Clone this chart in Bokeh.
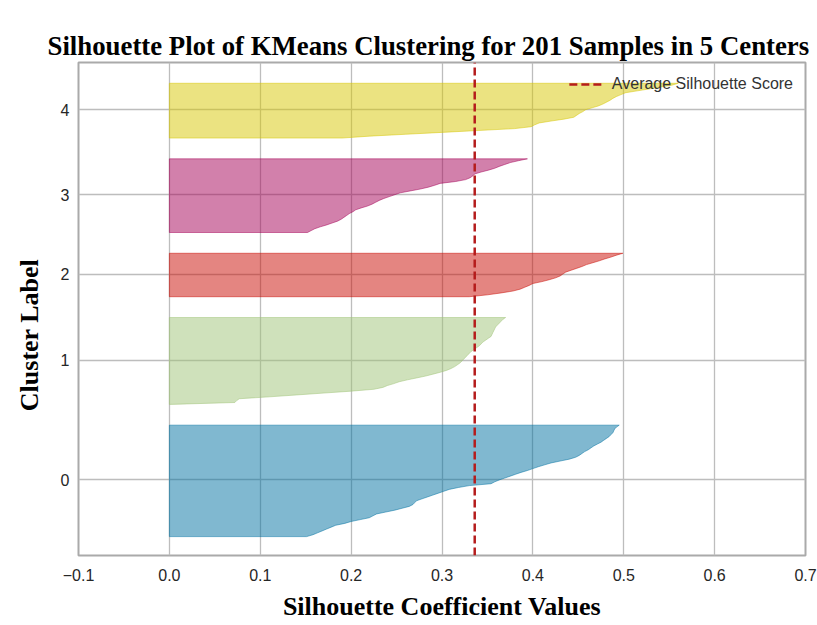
from bokeh.plotting import figure
from bokeh.models import Range1d, FixedTicker, Title, Legend, LegendItem
from bokeh.embed import file_html
from bokeh.resources import INLINE

# ---- data ----
cluster_labels = ["0", "1", "2", "3", "4"]
cluster_colors = ["#0272a2", "#9fc377", "#ca0b03", "#a50258", "#d7c703"]

sil_c0 = [0.151, 0.158, 0.163, 0.168, 0.173, 0.178, 0.183, 0.193, 0.200, 0.210,
          0.220, 0.224, 0.228, 0.238, 0.248, 0.256, 0.264, 0.268, 0.270, 0.272,
          0.278, 0.284, 0.290, 0.296, 0.302, 0.308, 0.318, 0.330, 0.354, 0.358,
          0.363, 0.369, 0.375, 0.381, 0.387, 0.394, 0.400, 0.406, 0.413, 0.420,
          0.430, 0.440, 0.447, 0.451, 0.454, 0.457, 0.461, 0.464, 0.467, 0.471,
          0.475, 0.478, 0.481, 0.484, 0.486, 0.488, 0.489, 0.490, 0.492, 0.495]
sil_c1 = [0.002, 0.072, 0.074, 0.077, 0.110, 0.140, 0.170, 0.200, 0.225, 0.235,
          0.240, 0.247, 0.253, 0.262, 0.272, 0.282, 0.290, 0.298, 0.305, 0.310,
          0.314, 0.317, 0.320, 0.322, 0.324, 0.326, 0.328, 0.330, 0.332, 0.335,
          0.338, 0.341, 0.343, 0.345, 0.348, 0.351, 0.354, 0.355, 0.356, 0.357,
          0.358, 0.359, 0.361, 0.363, 0.365, 0.367, 0.370]
sil_c2 = [0.330, 0.350, 0.365, 0.378, 0.386, 0.391, 0.396, 0.400, 0.410, 0.418,
          0.425, 0.430, 0.433, 0.436, 0.442, 0.448, 0.454, 0.459, 0.466, 0.473,
          0.479, 0.486, 0.492, 0.499]
sil_c3 = [0.152, 0.156, 0.160, 0.166, 0.173, 0.179, 0.185, 0.189, 0.192, 0.195,
          0.198, 0.202, 0.205, 0.211, 0.218, 0.223, 0.227, 0.231, 0.236, 0.242,
          0.248, 0.254, 0.265, 0.276, 0.285, 0.292, 0.298, 0.315, 0.326, 0.331,
          0.334, 0.336, 0.343, 0.351, 0.358, 0.363, 0.369, 0.375, 0.384, 0.394]
sil_c4 = [0.190, 0.220, 0.260, 0.300, 0.340, 0.380, 0.398, 0.402, 0.407, 0.420,
          0.434, 0.445, 0.448, 0.451, 0.455, 0.458, 0.465, 0.472, 0.477, 0.481,
          0.485, 0.488, 0.492, 0.497, 0.502, 0.515, 0.528, 0.540, 0.553, 0.560]
silhouette_values = [sil_c0, sil_c1, sil_c2, sil_c3, sil_c4]

avg_score = 0.336
gap = 10
x_ticks = [-0.1, 0.0, 0.1, 0.2, 0.3, 0.4, 0.5, 0.6, 0.7]
x_tick_labels = ["\u22120.1", "0.0", "0.1", "0.2", "0.3", "0.4", "0.5", "0.6", "0.7"]

n_samples = sum(len(v) for v in silhouette_values)
y_max = n_samples + (len(silhouette_values) + 1) * gap

SERIF = "Liberation Serif"
SANS = "Liberation Sans"

p = figure(width=817, height=623,
           x_range=Range1d(-0.1, 0.7), y_range=Range1d(0, y_max),
           output_backend="svg", toolbar_location=None,
           min_border_left=78, min_border_right=12,
           min_border_top=62, min_border_bottom=66)
p.title = None

# ---- silhouettes ----
y_lower = gap
tick_pos = []
for vals, col in zip(silhouette_values, cluster_colors):
    size = len(vals)
    ys = [y_lower + i for i in range(size)]
    xs = [0.0] + list(vals) + [0.0]
    yy = [ys[0]] + ys + [ys[-1]]
    p.patch(xs, yy, fill_color=col, fill_alpha=0.5,
            line_color=col, line_alpha=0.5, line_width=1)
    tick_pos.append(y_lower + 0.5 * size)
    y_lower = y_lower + size + gap

avg_r = p.line([avg_score, avg_score], [0, y_max], line_color="#b51c1c",
               line_dash="8 4", line_width=2.5)

legend = Legend(items=[LegendItem(label="Average Silhouette Score", renderers=[avg_r])],
                location="top_right")
legend.background_fill_alpha = 0
legend.border_line_color = None
legend.label_text_font = SANS
legend.label_text_font_size = "16px"
legend.label_text_color = "#333333"
legend.glyph_width = 36
legend.margin = 12
legend.padding = 6
legend.label_standoff = 7
p.add_layout(legend)

# ---- axes / grid ----
p.xaxis.ticker = FixedTicker(ticks=x_ticks)
p.xaxis.major_label_overrides = dict(zip(x_ticks, x_tick_labels))
p.yaxis.ticker = FixedTicker(ticks=tick_pos)
p.yaxis.major_label_overrides = dict(zip(tick_pos, cluster_labels))
p.xgrid.ticker = FixedTicker(ticks=x_ticks)
p.ygrid.ticker = FixedTicker(ticks=tick_pos)

for ax in (p.xaxis[0], p.yaxis[0]):
    ax.axis_line_color = None
    ax.major_tick_line_color = None
    ax.minor_tick_line_color = None
    ax.major_tick_out = 0
    ax.major_label_text_font = SANS
    ax.major_label_text_font_size = "16px"
    ax.major_label_text_color = "#262626"
    ax.axis_label_text_font = SERIF
    ax.axis_label_text_font_style = "bold"
    ax.axis_label_text_font_size = "26px"
    ax.axis_label_text_color = "#000000"

p.xaxis.axis_label = "Silhouette Coefficient Values"
p.yaxis.axis_label = "Cluster Label" + "\u00a0" * 8
p.xaxis.major_label_standoff = 13
p.xaxis.axis_label_standoff = 8
p.yaxis.major_label_standoff = 9
p.yaxis.axis_label_standoff = 14

for g in (p.xgrid[0], p.ygrid[0]):
    g.grid_line_color = "#bdbdbd"
    g.grid_line_width = 1.3

p.outline_line_color = "#aaaaaa"
p.outline_line_width = 2
p.background_fill_color = "white"

# a tall line box with top alignment lifts the title text up in its panel
p.add_layout(Title(text="Silhouette Plot of KMeans Clustering for 201 Samples in 5 Centers",
                   text_font=SERIF, text_font_style="bold", text_font_size="26.8px",
                   text_line_height=1.8,
                   align="left", offset=-31, standoff=0, vertical_align="top",
                   text_color="#000000"), "above")

open("out.html", "w").write(file_html(p, INLINE))
